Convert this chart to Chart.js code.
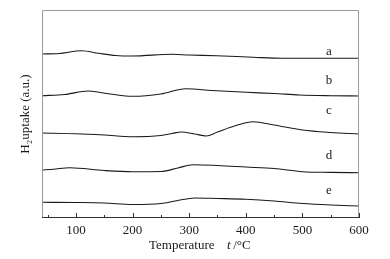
<!DOCTYPE html>
<html>
<head>
<meta charset="utf-8">
<script src="https://cdn.jsdelivr.net/npm/chart.js@4.4.1/dist/chart.umd.min.js"></script>
<style>
  html, body { margin: 0; padding: 0; background: #fff; }
  #wrap { width: 390px; height: 259px; }
</style>
</head>
<body>
<div id="wrap"><canvas id="tpr"></canvas></div>
<script>
// ── H2-TPR curves, heights in a.u. above the x axis ──────────────────────────
const tempA = [40, 70, 110, 140, 170, 200, 270, 300, 348, 413, 465, 500, 550, 600];
const curveA = [164, 164.5, 167.3, 164.7, 162.5, 162, 163.7, 163, 162.3, 160.7, 159.7, 159.7, 159.7, 159.7];

const tempB = [40, 80, 122, 160, 200, 250, 294, 340, 401, 450, 495, 550, 600];
const curveB = [122.3, 123.5, 127, 124, 121.7, 124, 129.3, 127.5, 125.7, 124.5, 123, 122.3, 122];

const tempC = [40, 100, 150, 200, 250, 270, 286, 310, 330, 350, 380, 413, 450, 500, 550, 600];
const curveC = [85, 84.3, 83, 81.3, 82.5, 84.5, 86, 84, 82, 86, 92, 96.3, 93, 88, 85.5, 84];

const tempD = [40, 60, 89, 150, 200, 250, 280, 307, 350, 400, 450, 500, 550, 600];
const curveD = [48, 48.8, 50.3, 47.5, 46.3, 46.5, 50, 53.3, 52.5, 51, 49.5, 46.3, 45.6, 45.3];

const tempE = [40, 100, 150, 200, 250, 280, 310, 350, 400, 450, 500, 550, 600];
const curveE = [15.7, 15.5, 15, 13.5, 14.5, 17.5, 20, 19.5, 18.7, 17, 14.5, 13, 12];

const curveNames  = ['a', 'b', 'c', 'd', 'e'];
const nameTemp    = 547;
const nameHeight  = [166, 137, 107, 62, 27];

const xTickLabels = [100, 200, 300, 400, 500, 600];

const INK   = '#1a1a1a';
const FRAME = '#9a9a9a';
const FONT  = '"Liberation Serif", "Times New Roman", serif';

function _pts(xs, ys) {
  return xs.map((x, i) => ({ x, y: ys[i] }));
}

function _line(label, xs, ys) {
  return {
    label,
    data:                   _pts(xs, ys),
    borderColor:            INK,
    backgroundColor:        'transparent',
    borderWidth:            1.1,
    pointRadius:            0,
    cubicInterpolationMode: 'monotone',
  };
}

// frame, inward tick marks, curve names and axis titles
const decor = {
  id: 'decor',
  afterDraw(chart) {
    const { ctx, chartArea: a, scales: { x, y } } = chart;
    ctx.save();

    // frame: light top/right/left, dark bottom
    ctx.lineWidth = 1;
    ctx.strokeStyle = FRAME;
    ctx.beginPath();
    ctx.moveTo(a.left + 0.5, a.bottom);
    ctx.lineTo(a.left + 0.5, a.top + 0.5);
    ctx.lineTo(a.right - 0.5, a.top + 0.5);
    ctx.lineTo(a.right - 0.5, a.bottom);
    ctx.stroke();
    ctx.strokeStyle = '#333';
    ctx.beginPath();
    ctx.moveTo(a.left, a.bottom - 0.5);
    ctx.lineTo(a.right, a.bottom - 0.5);
    ctx.stroke();

    // tick marks pointing up into the plot
    x.ticks.forEach(t => {
      const px = Math.round(x.getPixelForValue(t.value)) + 0.5;
      const len = t.value % 100 === 0 ? 5 : 3;
      ctx.beginPath();
      ctx.moveTo(px, a.bottom);
      ctx.lineTo(px, a.bottom - len);
      ctx.stroke();
    });

    // curve names
    ctx.fillStyle = INK;
    ctx.font = `13px ${FONT}`;
    ctx.textAlign = 'center';
    ctx.textBaseline = 'middle';
    curveNames.forEach((n, i) => {
      ctx.fillText(n, x.getPixelForValue(nameTemp), y.getPixelForValue(nameHeight[i]));
    });

    // x title: Temperature  t /°C
    ctx.textBaseline = 'alphabetic';
    ctx.textAlign = 'left';
    const ty = 249;
    ctx.font = `13px ${FONT}`;
    ctx.fillText('Temperature', 149, ty);
    ctx.font = `italic 13px ${FONT}`;
    ctx.fillText('t', 227, ty);
    ctx.font = `13px ${FONT}`;
    ctx.fillText(' /\u00B0C', 230, ty);

    // y title
    ctx.translate(29, (a.top + a.bottom) / 2);
    ctx.rotate(-Math.PI / 2);
    ctx.textAlign = 'center';
    ctx.fillText('H\u2082uptake (a.u.)', 0, 0);
    ctx.restore();
  },
};

new Chart(document.getElementById('tpr'), {
  type: 'line',
  data: {
    datasets: [
      _line('a', tempA, curveA),
      _line('b', tempB, curveB),
      _line('c', tempC, curveC),
      _line('d', tempD, curveD),
      _line('e', tempE, curveE),
    ],
  },
  options: {
    responsive: true,
    maintainAspectRatio: false,
    animation: false,
    layout: { padding: { top: 10, right: 31, left: 0, bottom: 0 } },
    plugins: { legend: { display: false }, tooltip: { enabled: false } },
    scales: {
      x: {
        type: 'linear',
        min: 40,
        max: 600,
        grid: { display: false, drawTicks: false },
        border: { display: false },
        afterBuildTicks: s => {
          s.ticks = [];
          for (let v = 50; v <= 600; v += 50) s.ticks.push({ value: v });
        },
        afterFit: s => { s.height = 41; },
        ticks: {
          padding: 5,
          color: INK,
          font: { family: FONT, size: 13 },
          callback: v => (xTickLabels.includes(v) ? String(v) : ''),
        },
      },
      y: {
        min: 0,
        max: 208,
        grid: { display: false, drawTicks: false },
        border: { display: false },
        ticks: { display: false },
        afterFit: s => { s.width = 42; },
      },
    },
  },
  plugins: [decor],
});
</script>
</body>
</html>
